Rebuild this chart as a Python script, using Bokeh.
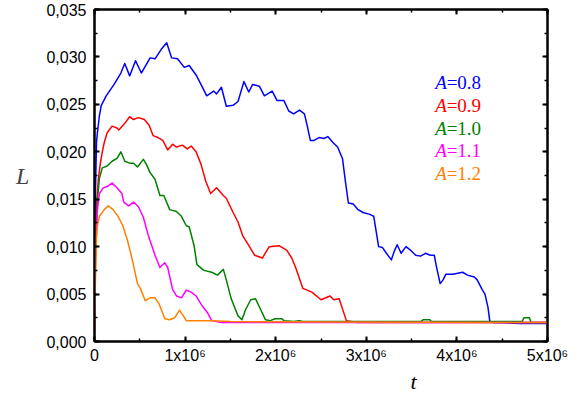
from bokeh.plotting import figure
from bokeh.models import (LinearAxis, SingleIntervalTicker, CustomJSTickFormatter,
                          Title, Range1d)
from bokeh.core.properties import value
from bokeh.embed import file_html
from bokeh.resources import INLINE

T_UNIT = 1e6  # time values below are given in units of 10^6

# (t [x10^6], L) pairs
series_08 = [(0, 0.0010), (0.011, 0.0159), (0.022, 0.0210), (0.032, 0.0220), (0.054, 0.0238),
             (0.075, 0.0249), (0.129, 0.0259), (0.216, 0.0271), (0.291, 0.0283), (0.334, 0.0293),
             (0.388, 0.0280), (0.453, 0.0296), (0.517, 0.0283), (0.614, 0.0299), (0.668, 0.0298),
             (0.744, 0.0309), (0.797, 0.0315), (0.851, 0.0299), (0.916, 0.0298), (0.991, 0.0289),
             (1.045, 0.0291), (1.121, 0.0281), (1.175, 0.0271), (1.239, 0.0259), (1.315, 0.0264),
             (1.347, 0.0261), (1.401, 0.0268), (1.455, 0.0248), (1.530, 0.0249), (1.584, 0.0253),
             (1.649, 0.0274), (1.703, 0.0263), (1.746, 0.0271), (1.821, 0.0269), (1.875, 0.0259),
             (1.961, 0.0264), (2.015, 0.0254), (2.091, 0.0254), (2.144, 0.0243), (2.198, 0.0240),
             (2.263, 0.0244), (2.317, 0.0240), (2.349, 0.0227), (2.382, 0.0212), (2.425, 0.0212),
             (2.478, 0.0215), (2.532, 0.0214), (2.575, 0.0216), (2.629, 0.0210), (2.683, 0.0205),
             (2.737, 0.0193), (2.769, 0.0169), (2.802, 0.0146), (2.856, 0.0145), (2.910, 0.0139),
             (2.963, 0.0136), (3.039, 0.0134), (3.082, 0.0132), (3.136, 0.0100), (3.179, 0.0099),
             (3.222, 0.0093), (3.276, 0.0086), (3.308, 0.0095), (3.341, 0.0102), (3.384, 0.0093),
             (3.438, 0.0100), (3.491, 0.0096), (3.545, 0.0091), (3.599, 0.0090), (3.653, 0.0093),
             (3.707, 0.0091), (3.750, 0.0091), (3.772, 0.0080), (3.815, 0.0061), (3.847, 0.0065),
             (3.879, 0.0071), (3.955, 0.0071), (4.009, 0.0072), (4.063, 0.0073), (4.116, 0.0070),
             (4.192, 0.0068), (4.224, 0.0065), (4.278, 0.0055), (4.310, 0.0050), (4.343, 0.0036),
             (4.364, 0.0021), (4.40, 0.0020), (4.70, 0.0019), (5.0, 0.0019)]

series_09 = [(0, 0.0010), (0.011, 0.0109), (0.022, 0.0144), (0.043, 0.0172), (0.065, 0.0188),
             (0.086, 0.0200), (0.108, 0.0210), (0.140, 0.0220), (0.194, 0.0227), (0.248, 0.0225),
             (0.269, 0.0223), (0.334, 0.0230), (0.388, 0.0237), (0.431, 0.0234), (0.485, 0.0236),
             (0.550, 0.0234), (0.603, 0.0228), (0.647, 0.0217), (0.700, 0.0215), (0.754, 0.0212),
             (0.808, 0.0202), (0.862, 0.0208), (0.905, 0.0205), (0.970, 0.0207), (1.024, 0.0203),
             (1.067, 0.0206), (1.121, 0.0200), (1.175, 0.0187), (1.228, 0.0169), (1.282, 0.0156),
             (1.347, 0.0162), (1.422, 0.0154), (1.455, 0.0151), (1.530, 0.0136), (1.584, 0.0126),
             (1.638, 0.0111), (1.692, 0.0103), (1.767, 0.0091), (1.853, 0.0088), (1.929, 0.0100),
             (2.037, 0.0101), (2.123, 0.0096), (2.177, 0.0088), (2.22, 0.0078), (2.30, 0.0056),
             (2.40, 0.0052), (2.50, 0.0044), (2.60, 0.0048), (2.64, 0.0044), (2.70, 0.0045),
             (2.78, 0.0022), (2.90, 0.0020), (5.0, 0.0020)]

series_10 = [(0, 0.0010), (0.011, 0.0098), (0.032, 0.0149), (0.054, 0.0172), (0.086, 0.0183),
             (0.140, 0.0185), (0.194, 0.0190), (0.248, 0.0193), (0.291, 0.0200), (0.334, 0.0190),
             (0.388, 0.0188), (0.431, 0.0188), (0.474, 0.0184), (0.539, 0.0192), (0.571, 0.0187),
             (0.614, 0.0178), (0.668, 0.0171), (0.722, 0.0154), (0.765, 0.0154), (0.830, 0.0139),
             (0.905, 0.0137), (0.959, 0.0132), (1.013, 0.0122), (1.045, 0.0121), (1.099, 0.0101),
             (1.131, 0.0081), (1.207, 0.0075), (1.293, 0.0073), (1.358, 0.0070), (1.422, 0.0076),
             (1.455, 0.0065), (1.509, 0.0045), (1.584, 0.0027), (1.627, 0.0023), (1.670, 0.0034),
             (1.724, 0.0044), (1.778, 0.0045), (1.832, 0.0034), (1.886, 0.0023), (1.940, 0.0022),
             (1.994, 0.0024), (2.069, 0.0024), (2.091, 0.0022), (2.20, 0.0021), (2.26, 0.0022),
             (2.30, 0.0021), (3.60, 0.0021), (3.63, 0.0023), (3.70, 0.0023), (3.72, 0.0021),
             (4.72, 0.0021), (4.74, 0.0025), (4.80, 0.0025), (4.82, 0.0020), (5.0, 0.0020)]

series_11 = [(0, 0.0010), (0.011, 0.0088), (0.032, 0.0139), (0.054, 0.0156), (0.097, 0.0162),
             (0.151, 0.0164), (0.194, 0.0167), (0.248, 0.0162), (0.302, 0.0156), (0.323, 0.0147),
             (0.377, 0.0143), (0.431, 0.0147), (0.485, 0.0142), (0.539, 0.0131), (0.593, 0.0112),
             (0.668, 0.0091), (0.722, 0.0078), (0.776, 0.0083), (0.808, 0.0078), (0.862, 0.0055),
             (0.905, 0.0048), (0.959, 0.0046), (1.013, 0.0054), (1.067, 0.0052), (1.121, 0.0048),
             (1.185, 0.0038), (1.250, 0.0030), (1.293, 0.0022), (1.40, 0.0020), (5.0, 0.0020)]

series_12 = [(0, 0.0010), (0.011, 0.0068), (0.022, 0.0109), (0.032, 0.0122), (0.054, 0.0132),
             (0.108, 0.0139), (0.151, 0.0143), (0.205, 0.0139), (0.259, 0.0132), (0.313, 0.0122),
             (0.366, 0.0106), (0.420, 0.0085), (0.474, 0.0061), (0.506, 0.0056), (0.560, 0.0043),
             (0.614, 0.0046), (0.668, 0.0046), (0.711, 0.0040), (0.776, 0.0024), (0.830, 0.0023),
             (0.884, 0.0025), (0.938, 0.0033), (0.981, 0.0027), (1.013, 0.0022), (1.30, 0.0022),
             (1.50, 0.0021), (5.0, 0.0020)]

amplitudes = ["0.8", "0.9", "1.0", "1.1", "1.2"]
colors = ["#0000FF", "#FF0000", "#008000", "#FF00FF", "#FF8000"]
all_series = [series_08, series_09, series_10, series_11, series_12]

x_ticks_interval = 1e6
y_ticks_interval = 0.005

p = figure(width=569, height=393, output_backend="svg", toolbar_location=None,
           x_range=Range1d(0, 5e6), y_range=Range1d(0, 0.035),
           x_axis_type=None, y_axis_type=None,
           min_border_left=94, min_border_right=22, min_border_top=9, min_border_bottom=46,
           background_fill_color="white", border_fill_color="white")
p.outline_line_color = "black"
p.outline_line_width = 2


def make_axis(interval, code, standoff):
    return LinearAxis(
        ticker=SingleIntervalTicker(interval=interval, num_minor_ticks=2),
        formatter=CustomJSTickFormatter(code=code),
        axis_line_width=2, axis_line_color="black",
        major_tick_in=5, major_tick_out=0, major_tick_line_width=2,
        minor_tick_in=3, minor_tick_out=0, minor_tick_line_width=1.5,
        major_label_text_font="Liberation Sans", major_label_text_font_size="16px",
        major_label_text_color="black", major_label_standoff=standoff)


x_code = "if (Math.abs(tick) < 1) { return '0'; } return Math.round(tick / 1e6) + 'x10\u2076';"
y_code = "return tick.toFixed(3).replace('.', ',');"
empty_code = "return '';"

x_axis = make_axis(x_ticks_interval, x_code, 5)
y_axis = make_axis(y_ticks_interval, y_code, 8)
y_axis.axis_label = "L"
y_axis.axis_label_orientation = "horizontal"
y_axis.axis_label_text_font = "Liberation Serif"
y_axis.axis_label_text_font_style = "italic"
y_axis.axis_label_text_font_size = "24px"
y_axis.axis_label_standoff = 14

p.add_layout(x_axis, "below")
p.add_layout(y_axis, "left")
p.add_layout(make_axis(x_ticks_interval, empty_code, 0), "above")
p.add_layout(make_axis(y_ticks_interval, empty_code, 0), "right")

p.add_layout(Title(text="t", align="left", offset=316, standoff=0,
                   text_font="Liberation Serif", text_font_style="italic",
                   text_font_size="22px", text_line_height=1.0,
                   text_color="black"), "below")

for s, c in zip(all_series, colors):
    xs = [a * T_UNIT for a, _ in s]
    ys = [b for _, b in s]
    p.line(xs, ys, line_color=c, line_width=1.5, line_join="round")

# colored legend texts
leg_x = [3.76e6] * len(amplitudes)
leg_y = [0.02729 - i * 0.0024 for i in range(len(amplitudes))]
p.text(x=leg_x, y=leg_y, text=["A"] * len(amplitudes), text_color=colors,
       text_font=value("Liberation Serif"), text_font_style="italic",
       text_font_size="19px", text_baseline="alphabetic", text_align="left")
p.text(x=leg_x, y=leg_y, text=["=" + a for a in amplitudes], text_color=colors,
       text_font=value("Liberation Serif"), text_font_size="19px",
       text_baseline="alphabetic", text_align="left", x_offset=11.5)

open("out.html", "w", encoding="utf-8").write(file_html(p, INLINE))
